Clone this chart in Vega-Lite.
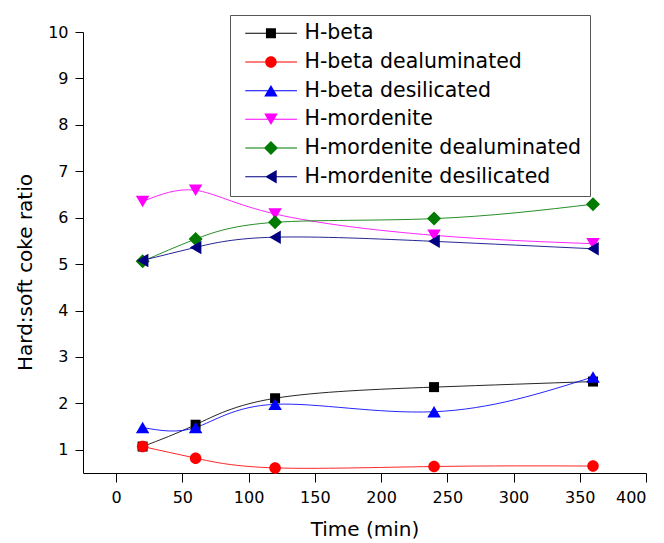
{
  "$schema": "https://vega.github.io/schema/vega-lite/v6.json",
  "width": 563,
  "height": 441,
  "autosize": {"type": "none"},
  "padding": {"left": 83, "top": 32, "right": 18, "bottom": 70},
  "background": "white",
  "config": {
    "view": {"stroke": null},
    "font": "DejaVu Sans",
    "axis": {
      "grid": false,
      "domainColor": "black",
      "domainWidth": 1,
      "tickColor": "black",
      "tickWidth": 1,
      "labelColor": "black",
      "labelFont": "DejaVu Sans",
      "labelFontSize": 16,
      "titleFont": "DejaVu Sans",
      "titleFontWeight": "normal",
      "titleColor": "black"
    },
    "legend": {
      "title": null,
      "orient": "none",
      "legendX": 147,
      "legendY": -17,
      "padding": 8,
      "strokeColor": "#555555",
      "fillColor": "white",
      "labelFont": "DejaVu Sans",
      "labelFontSize": 20.5,
      "labelColor": "black",
      "labelLimit": 400,
      "symbolSize": 100,
      "symbolStrokeWidth": 0,
      "symbolOpacity": 1,
      "labelOffset": 46,
      "rowPadding": 7.7
    }
  },
  "data": {
    "values": [
      {"sample": "H-beta", "time": 20, "ratio": 1.07},
      {"sample": "H-beta", "time": 60, "ratio": 1.54},
      {"sample": "H-beta", "time": 120, "ratio": 2.11},
      {"sample": "H-beta", "time": 240, "ratio": 2.35},
      {"sample": "H-beta", "time": 360, "ratio": 2.47},
      {"sample": "H-beta dealuminated", "time": 20, "ratio": 1.07},
      {"sample": "H-beta dealuminated", "time": 60, "ratio": 0.82},
      {"sample": "H-beta dealuminated", "time": 120, "ratio": 0.61},
      {"sample": "H-beta dealuminated", "time": 240, "ratio": 0.64},
      {"sample": "H-beta dealuminated", "time": 360, "ratio": 0.65},
      {"sample": "H-beta desilicated", "time": 20, "ratio": 1.48},
      {"sample": "H-beta desilicated", "time": 60, "ratio": 1.48},
      {"sample": "H-beta desilicated", "time": 120, "ratio": 1.98},
      {"sample": "H-beta desilicated", "time": 240, "ratio": 1.82},
      {"sample": "H-beta desilicated", "time": 360, "ratio": 2.57},
      {"sample": "H-mordenite", "time": 20, "ratio": 6.35},
      {"sample": "H-mordenite", "time": 60, "ratio": 6.59},
      {"sample": "H-mordenite", "time": 120, "ratio": 6.08},
      {"sample": "H-mordenite", "time": 240, "ratio": 5.62},
      {"sample": "H-mordenite", "time": 360, "ratio": 5.44},
      {"sample": "H-mordenite dealuminated", "time": 20, "ratio": 5.06},
      {"sample": "H-mordenite dealuminated", "time": 60, "ratio": 5.54},
      {"sample": "H-mordenite dealuminated", "time": 120, "ratio": 5.9},
      {"sample": "H-mordenite dealuminated", "time": 240, "ratio": 5.98},
      {"sample": "H-mordenite dealuminated", "time": 360, "ratio": 6.29},
      {"sample": "H-mordenite desilicated", "time": 20, "ratio": 5.08},
      {"sample": "H-mordenite desilicated", "time": 60, "ratio": 5.36},
      {"sample": "H-mordenite desilicated", "time": 120, "ratio": 5.58},
      {"sample": "H-mordenite desilicated", "time": 240, "ratio": 5.49},
      {"sample": "H-mordenite desilicated", "time": 360, "ratio": 5.33}
    ]
  },
  "encoding": {
    "x": {
      "field": "time",
      "type": "quantitative",
      "scale": {"domain": [-25, 400], "nice": false, "zero": false},
      "axis": {
        "title": "Time (min)",
        "values": [0, 50, 100, 150, 200, 250, 300, 350, 400],
        "tickSize": 9,
        "labelPadding": 7,
        "titleFontSize": 20,
        "titlePadding": 14
      }
    },
    "y": {
      "field": "ratio",
      "type": "quantitative",
      "scale": {"domain": [0.5, 10], "nice": false, "zero": false},
      "axis": {
        "title": "Hard:soft coke ratio",
        "values": [1, 2, 3, 4, 5, 6, 7, 8, 9, 10],
        "tickSize": 8,
        "labelPadding": 7,
        "titleFontSize": 20,
        "titlePadding": 12,
        "titleY": 240
      }
    }
  },
  "layer": [
    {
      "mark": {"type": "line", "interpolate": "natural", "strokeWidth": 1, "opacity": 0.85},
      "encoding": {
        "color": {
          "field": "sample",
          "type": "nominal",
          "scale": {
            "domain": ["H-beta", "H-beta dealuminated", "H-beta desilicated", "H-mordenite", "H-mordenite dealuminated", "H-mordenite desilicated"],
            "range": ["#000000", "#FF0000", "#0000FF", "#FF00FF", "#007A00", "#000080"]
          },
          "legend": null
        }
      }
    },
    {
      "mark": {"type": "point", "filled": true, "opacity": 1, "size": 100},
      "encoding": {
        "color": {
          "field": "sample",
          "type": "nominal",
          "scale": {
            "domain": ["H-beta", "H-beta dealuminated", "H-beta desilicated", "H-mordenite", "H-mordenite dealuminated", "H-mordenite desilicated"],
            "range": ["#000000", "#FF0000", "#0000FF", "#FF00FF", "#007A00", "#000080"]
          },
          "legend": null
        },
        "shape": {
          "field": "sample",
          "type": "nominal",
          "scale": {
            "domain": ["H-beta", "H-beta dealuminated", "H-beta desilicated", "H-mordenite", "H-mordenite dealuminated", "H-mordenite desilicated"],
            "range": [
              "M-1,-1H1V1H-1Z",
              "M-1.15,0A1.15,1.15,0,1,1,1.15,0A1.15,1.15,0,1,1,-1.15,0Z",
              "M0,-1.15L1.35,1.15L-1.35,1.15Z",
              "M0,1.15L-1.35,-1.15L1.35,-1.15Z",
              "M0,-1.4L1.4,0L0,1.4L-1.4,0Z",
              "M-1.15,0L1.15,-1.35L1.15,1.35Z"
            ]
          },
          "legend": null
        }
      }
    },
    {
      "transform": [{"filter": "datum.time < 0"}],
      "mark": {"type": "point", "filled": true, "opacity": 1, "size": 100},
      "encoding": {
        "color": {
          "field": "sample",
          "type": "nominal",
          "scale": {
            "domain": ["H-beta", "H-beta dealuminated", "H-beta desilicated", "H-mordenite", "H-mordenite dealuminated", "H-mordenite desilicated"],
            "range": ["#000000", "#FF0000", "#0000FF", "#FF00FF", "#007A00", "#000080"]
          },
          "legend": {"title": null}
        },
        "shape": {
          "field": "sample",
          "type": "nominal",
          "scale": {
            "domain": ["H-beta", "H-beta dealuminated", "H-beta desilicated", "H-mordenite", "H-mordenite dealuminated", "H-mordenite desilicated"],
            "range": [
              "M-0.6,-0.1H9.74V0.1H-0.6Z M3.54,-1H5.54V1H3.54Z",
              "M-0.6,-0.1H9.74V0.1H-0.6Z M3.39,0A1.15,1.15,0,1,1,5.69,0A1.15,1.15,0,1,1,3.39,0Z",
              "M-0.6,-0.1H9.74V0.1H-0.6Z M4.54,-1.15L5.89,1.15L3.19,1.15Z",
              "M-0.6,-0.1H9.74V0.1H-0.6Z M4.54,1.15L3.19,-1.15L5.89,-1.15Z",
              "M-0.6,-0.1H9.74V0.1H-0.6Z M4.54,-1.4L5.94,0L4.54,1.4L3.14,0Z",
              "M-0.6,-0.1H9.74V0.1H-0.6Z M3.39,0L5.69,-1.35L5.69,1.35Z"
            ]
          },
          "legend": {"title": null}
        }
      }
    }
  ],
  "resolve": {
    "scale": {"color": "independent", "shape": "independent"},
    "legend": {"color": "independent", "shape": "independent"}
  }
}
